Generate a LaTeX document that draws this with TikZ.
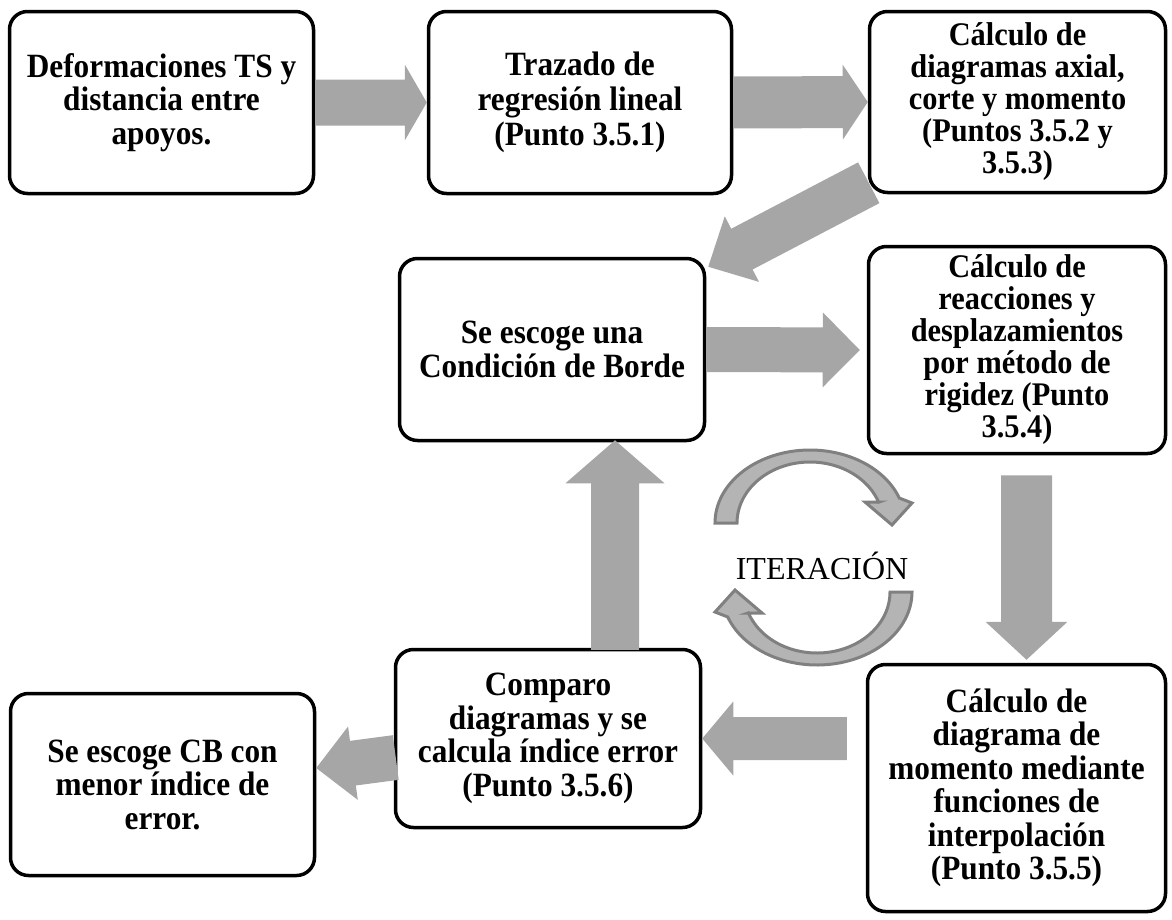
\documentclass[tikz,border=0pt]{standalone}
\usepackage{fontspec}
\setmainfont{Liberation Serif}
\newfontfamily\boxfont{Liberation Serif}[FakeStretch=0.92]
\usetikzlibrary{calc}
\definecolor{arrowfill}{RGB}{166,166,166}
\definecolor{ringfill}{RGB}{180,180,180}
\definecolor{ringline}{RGB}{128,128,128}
% block arrow: from, to, half shaft width, half head width, head length
\newcommand\blockarrow[5]{%
  \coordinate (bah) at ($(#2)!#5!(#1)$);
  \fill[arrowfill] ($(#1)!#3!90:(#2)$) -- ($(bah)!#3!90:(#2)$) -- ($(bah)!#4!90:(#2)$)
    -- (#2) -- ($(bah)!#4!-90:(#2)$) -- ($(bah)!#3!-90:(#2)$) -- ($(#1)!#3!-90:(#2)$) -- cycle;}
\newcommand\ringarrow{%
  \filldraw[fill=ringfill, draw=ringline, line width=3pt, line join=miter]
    plot[domain=180:340, samples=60] ({810+95*cos(\x)},{523+73*sin(\x)})
    -- (912,503) -- (892,525) -- (865,502) -- (879,502)
    -- plot[domain=340:180, samples=60] ({810+73*cos(\x)},{523+61*sin(\x)}) -- cycle;}
\begin{document}
\begin{tikzpicture}[x=1pt,y=-1pt,
  box/.style={draw=black, line width=3.5pt, rounded corners=18pt, fill=white,
    align=center, inner sep=2pt, font=\boxfont\bfseries\fontsize{34}{33.5}\selectfont},
  tight/.style={font=\boxfont\bfseries\fontsize{33}{32}\selectfont},
  loose/.style={font=\boxfont\bfseries\fontsize{34}{35}\selectfont}]
\useasboundingbox (0,0) rectangle (1172,919);
% boxes
\node[box, minimum width=304pt, minimum height=182pt] (b1) at (161.5,102.5)
  {Deformaciones TS y\\distancia entre\\apoyos.};
\node[box, loose, minimum width=303pt, minimum height=182pt] (b2) at (580,102.5)
  {Trazado de\\regresión lineal\\(Punto 3.5.1)};
\node[box, tight, minimum width=296pt, minimum height=181pt] (b3) at (1017.5,102)
  {Cálculo de\\diagramas axial,\\corte y momento\\(Puntos 3.5.2 y\\3.5.3)};
\node[box, minimum width=305pt, minimum height=182pt] (b4) at (552,349.5)
  {Se escoge una\\Condición de Borde};
\node[box, tight, minimum width=297pt, minimum height=207pt] (b5) at (1017,350)
  {Cálculo de\\reacciones y\\desplazamientos\\por método de\\rigidez (Punto\\3.5.4)};
\node[box, minimum width=305pt, minimum height=178pt] (b6) at (548,738.5)
  {Comparo\\diagramas y se\\calcula índice error\\(Punto 3.5.6)};
\node[box, minimum width=304pt, minimum height=182pt] (b7) at (162.5,784.5)
  {Se escoge CB con\\menor índice de\\error.};
\node[box, minimum width=298pt, minimum height=247pt] (b8) at (1016.5,788)
  {Cálculo de\\diagrama de\\momento mediante\\funciones de\\interpolación\\(Punto 3.5.5)};
% iteration
\node (iter) at (822,566) {\fontsize{32}{34}\selectfont ITERACIÓN};
\ringarrow
\begin{scope}[rotate around={180:(813.5,557.5)}]
  \ringarrow
\end{scope}
% arrow end points
\coordinate (s1) at (b1.east);
\coordinate (t1) at (b2.west);
\coordinate (s2) at (b2.east);
\coordinate (t2) at (b3.west);
\coordinate (s3) at ($(b3.south west)+(1,-11.5)$);
\coordinate (t3) at ($(b4.north east)+(2,10)$);
\coordinate (s4) at (b4.east);
\coordinate (t4) at ($(b5.west)+(-7,0)$);
\coordinate (s5) at ($(b5.south)+(9.5,20)$);
\coordinate (t5) at ($(b8.north)+(10,-3)$);
\coordinate (s6) at ($(b6.north)+(67,2)$);
\coordinate (t6) at ($(b4.south)+(63,-2)$);
\coordinate (s7) at ($(b8.west)+(-19,-49.5)$);
\coordinate (t7) at (b6.east);
\coordinate (s8) at ($(b6.west)+(2,19)$);
\coordinate (t8) at ($(b7.east)+(0,-16.5)$);
% block arrows
\blockarrow{s1}{t1}{23pt}{38pt}{22pt}
\blockarrow{s2}{t2}{26pt}{37.5pt}{25pt}
\blockarrow{s3}{t3}{23pt}{37pt}{38pt}
\blockarrow{s4}{t4}{22.5pt}{37.5pt}{37pt}
\blockarrow{s5}{t5}{25.5pt}{41pt}{38pt}
\blockarrow{s6}{t6}{24pt}{49.5pt}{43pt}
\blockarrow{s7}{t7}{21.5pt}{37pt}{31pt}
\blockarrow{s8}{t8}{22.5pt}{37pt}{37pt}
\end{tikzpicture}
\end{document}
